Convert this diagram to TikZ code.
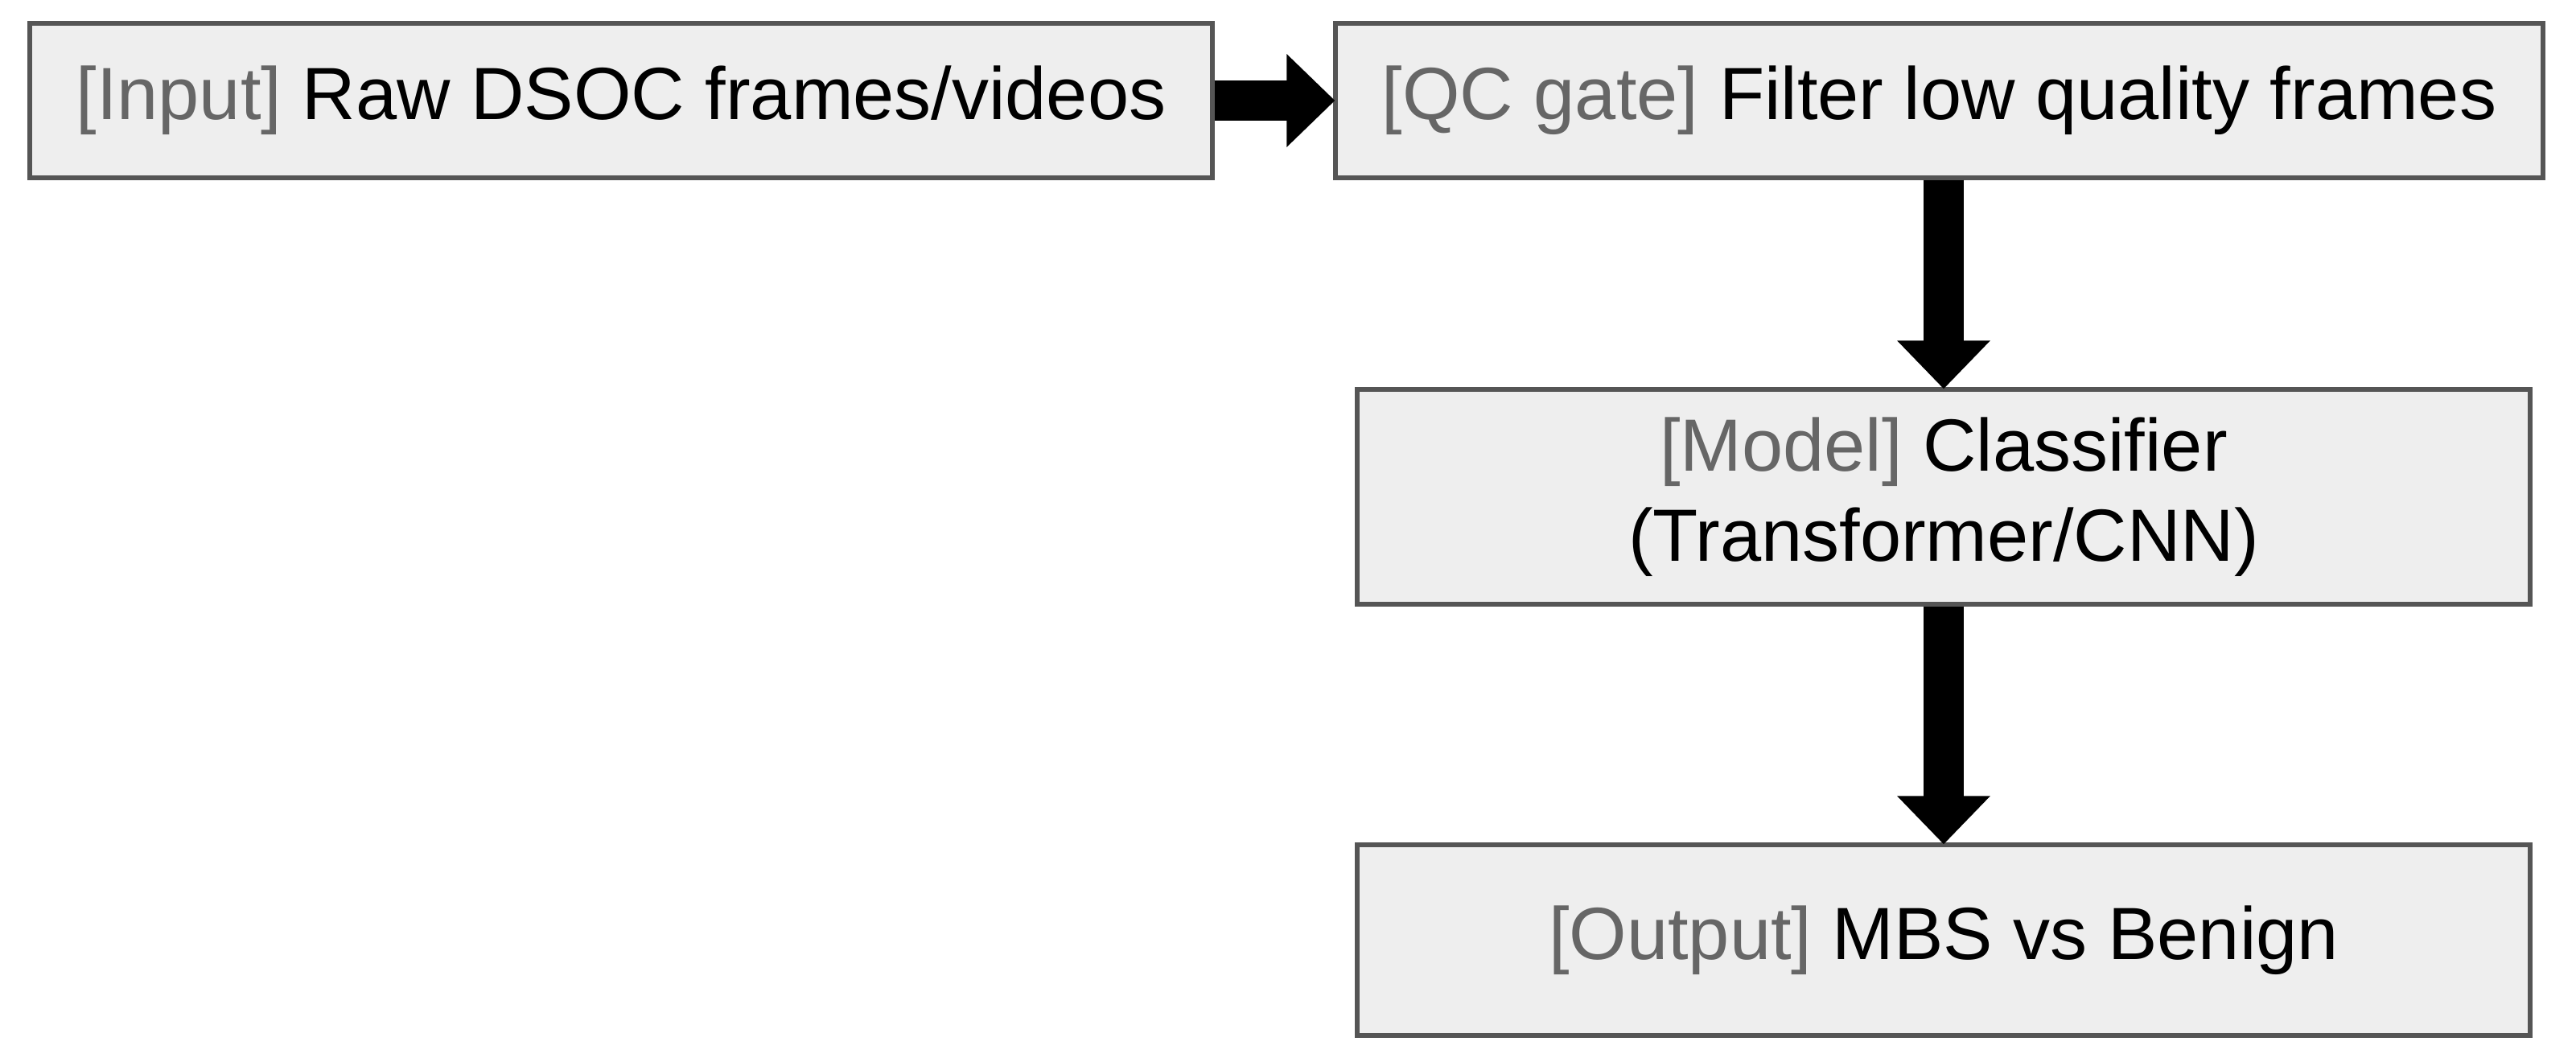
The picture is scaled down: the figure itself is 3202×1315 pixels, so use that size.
\documentclass[tikz,border=0pt]{standalone}
\usepackage{fontspec}
\setmainfont{Liberation Sans}
\usetikzlibrary{arrows.meta}
\definecolor{boxfill}{HTML}{EEEEEE}
\definecolor{boxline}{HTML}{555555}
\definecolor{tagtext}{HTML}{666666}
\newcommand{\tagtxt}[1]{\textcolor{tagtext}{#1}}
\tikzset{
  flowbox/.style={draw=boxline, fill=boxfill, line width=1.3pt, inner sep=0pt,
    align=center, font=\fontsize{23pt}{28pt}\selectfont, text=black},
  blockarrow/.style={line width=12.5pt, draw=black,
    -{Triangle[width=28pt,length=15pt]}, shorten >=-0.5pt}
}
\begin{document}
\begin{tikzpicture}[x=0.25pt,y=-0.25pt]
\useasboundingbox (0,0) rectangle (3202,1315);
\node[flowbox, minimum width=367.5pt, minimum height=48pt] (inp) at (772,125)
  {\tagtxt{[Input]} Raw DSOC frames/videos};
\node[flowbox, minimum width=375.25pt, minimum height=48pt] (qc) at (2410.5,125)
  {\tagtxt{[QC gate]} Filter low quality frames};
\node[flowbox, minimum width=364.5pt, minimum height=66.75pt] (model) at (2416,617.5)
  {\tagtxt{[Model]} Classifier\\(Transformer/CNN)};
\node[flowbox, minimum width=364.5pt, minimum height=59.25pt] (out) at (2416,1168.5)
  {\tagtxt{[Output]} MBS vs Benign};
\draw[blockarrow] (inp.east) -- (qc.west);
\draw[blockarrow] (qc.south -| model.north) -- (model.north);
\draw[blockarrow] (model.south) -- (out.north);
\end{tikzpicture}
\end{document}
